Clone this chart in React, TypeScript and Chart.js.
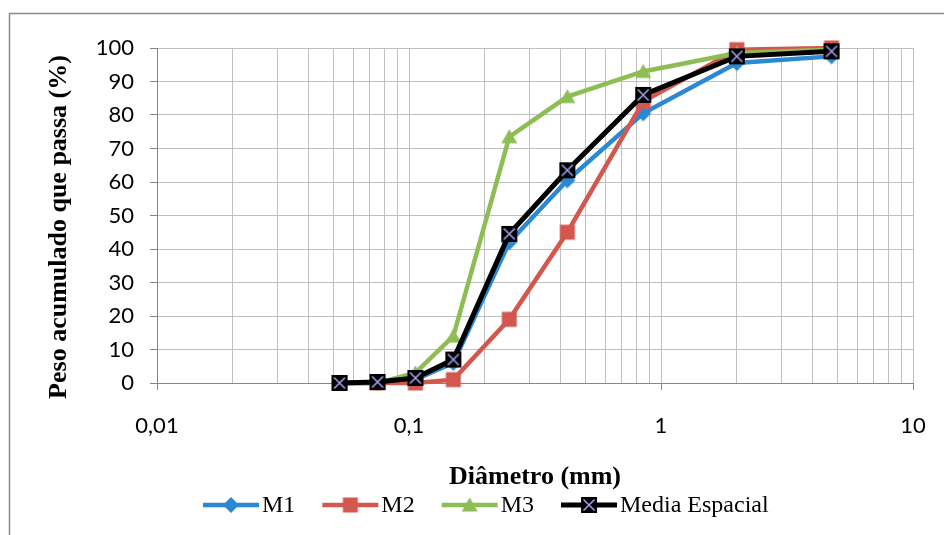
import React, { useEffect, useRef } from 'react';
import { Chart, registerables } from 'chart.js';

Chart.register(...registerables);

// ---- data ----
const diameters = [0.053, 0.075, 0.106, 0.15, 0.25, 0.425, 0.85, 2, 4.75];
const m1Values = [0, 0, 1, 6, 42, 60.5, 80.5, 95.5, 97.5];
const m2Values = [0, 0, 0, 1, 19, 45, 84, 99.5, 100];
const m3Values = [0, 0, 3, 14, 73.5, 85.5, 93, 98.5, 99.5];
const mediaValues = [0, 0.3, 1.5, 7, 44.5, 63.5, 86, 97.5, 99];
const seriesNames = ['M1', 'M2', 'M3', 'Media Espacial'];

const yTickValues = [0, 10, 20, 30, 40, 50, 60, 70, 80, 90, 100];
const xGridValues = [
  0.01, 0.02, 0.03, 0.04, 0.05, 0.06, 0.07, 0.08, 0.09,
  0.1, 0.2, 0.3, 0.4, 0.5, 0.6, 0.7, 0.8, 0.9,
  1, 2, 3, 4, 5, 6, 7, 8, 9,
  10,
];
const xMajorValues = [0.01, 0.1, 1, 10];
const xMajorLabels = ['0,01', '0,1', '1', '10'];
const xTitle = 'Diâmetro (mm)';
const yTitle = 'Peso acumulado que passa (%)';

const COLORS = {
  m1: '#2b89d2',
  m2: '#d4574f',
  m3: '#8ebd54',
  media: '#000000',
  cross: '#a0a0f0',
};

function makeMarker(kind: string, color: string): HTMLCanvasElement {
  const s = 20;
  const c = document.createElement('canvas');
  c.width = s;
  c.height = s;
  const g = c.getContext('2d') as CanvasRenderingContext2D;
  const m = s / 2;
  g.fillStyle = color;
  g.beginPath();
  if (kind === 'diamond') {
    g.moveTo(m, m - 8);
    g.lineTo(m + 8, m);
    g.lineTo(m, m + 8);
    g.lineTo(m - 8, m);
    g.closePath();
    g.fill();
  } else if (kind === 'square') {
    g.rect(m - 7.5, m - 7.5, 15, 15);
    g.fill();
  } else if (kind === 'triangle') {
    g.moveTo(m, m - 7.5);
    g.lineTo(m + 8, m + 6.5);
    g.lineTo(m - 8, m + 6.5);
    g.closePath();
    g.fill();
  } else {
    g.rect(m - 8, m - 8, 16, 16);
    g.fill();
    g.strokeStyle = COLORS.cross;
    g.lineWidth = 1.6;
    g.beginPath();
    g.moveTo(m - 5.5, m - 5.5);
    g.lineTo(m + 5.5, m + 5.5);
    g.moveTo(m + 5.5, m - 5.5);
    g.lineTo(m - 5.5, m + 5.5);
    g.stroke();
  }
  return c;
}

export default function App() {
  const ref = useRef<HTMLCanvasElement | null>(null);

  useEffect(() => {
    const canvas = ref.current;
    if (!canvas) return;

    const markers = [
      makeMarker('diamond', COLORS.m1),
      makeMarker('square', COLORS.m2),
      makeMarker('triangle', COLORS.m3),
      makeMarker('cross', COLORS.media),
    ];

    const mk = (vals: number[]) => diameters.map((d, i) => ({ x: d, y: vals[i] }));

    const datasets = [
      { label: seriesNames[0], data: mk(m1Values), borderColor: COLORS.m1, backgroundColor: COLORS.m1, borderWidth: 4.5, pointStyle: markers[0], order: 3 },
      { label: seriesNames[1], data: mk(m2Values), borderColor: COLORS.m2, backgroundColor: COLORS.m2, borderWidth: 4.5, pointStyle: markers[1], order: 2 },
      { label: seriesNames[2], data: mk(m3Values), borderColor: COLORS.m3, backgroundColor: COLORS.m3, borderWidth: 4.5, pointStyle: markers[2], order: 1 },
      { label: seriesNames[3], data: mk(mediaValues), borderColor: COLORS.media, backgroundColor: COLORS.media, borderWidth: 5, pointStyle: markers[3], order: 0 },
    ].map((d) => ({ ...d, pointRadius: 8, tension: 0, clip: false as any, fill: false }));

    const decor = {
      id: 'decor',
      beforeDraw(chart: any) {
        const ctx = chart.ctx as CanvasRenderingContext2D;
        ctx.save();
        ctx.fillStyle = '#ffffff';
        ctx.fillRect(0, 0, chart.width, chart.height);
        ctx.strokeStyle = '#8a8a8a';
        ctx.lineWidth = 1.5;
        ctx.beginPath();
        ctx.moveTo(9.5, chart.height);
        ctx.lineTo(9.5, 13.5);
        ctx.lineTo(chart.width, 13.5);
        ctx.stroke();
        ctx.restore();
      },
      afterDraw(chart: any) {
        const ctx = chart.ctx as CanvasRenderingContext2D;
        // y axis title
        ctx.save();
        ctx.translate(59, 227);
        ctx.rotate(-Math.PI / 2);
        ctx.font = 'bold 26px "Liberation Serif"';
        ctx.fillStyle = '#000';
        ctx.textAlign = 'center';
        ctx.textBaseline = 'middle';
        ctx.fillText(yTitle, 0, 0);
        ctx.restore();

        // legend
        ctx.save();
        ctx.font = '24px "Liberation Serif"';
        ctx.textBaseline = 'middle';
        ctx.textAlign = 'left';
        let x = 203;
        const y = 505;
        chart.data.datasets
          .slice()
          .sort((a: any, b: any) => seriesNames.indexOf(a.label) - seriesNames.indexOf(b.label))
          .forEach((ds: any) => {
            ctx.strokeStyle = ds.borderColor;
            ctx.lineWidth = ds.borderWidth;
            ctx.beginPath();
            ctx.moveTo(x, y);
            ctx.lineTo(x + 56, y);
            ctx.stroke();
            const img = ds.pointStyle as HTMLCanvasElement;
            ctx.drawImage(img, x + 28 - img.width / 2, y - img.height / 2);
            ctx.fillStyle = '#000';
            ctx.fillText(ds.label, x + 59, y + 1);
            x = x + 59 + ctx.measureText(ds.label).width + 27;
          });
        ctx.restore();
      },
    };

    const chart = new Chart(canvas, {
      type: 'line',
      data: { datasets: datasets as any },
      options: {
        animation: false,
        responsive: false,
        layout: { padding: { left: 0, top: 48, right: 31, bottom: 0 } },
        plugins: { legend: { display: false }, tooltip: { enabled: false } },
        scales: {
          x: {
            type: 'logarithmic',
            min: 0.01,
            max: 10,
            afterBuildTicks: (s: any) => {
              s.ticks = xGridValues.map((v) => ({ value: v, major: xMajorValues.includes(v) }));
            },
            afterFit: (s: any) => {
              s.height = 535 - 383;
              s.paddingLeft = 0;
              s.paddingRight = 0;
            },
            ticks: {
              autoSkip: false,
              maxRotation: 0,
              minRotation: 0,
              padding: 23,
              color: '#000',
              font: { family: 'Lato', size: 22 },
              callback: (v: any) => {
                const i = xMajorValues.indexOf(Number(v));
                return i >= 0 ? xMajorLabels[i] : '';
              },
            },
            grid: {
              color: '#c0c0c0',
              lineWidth: 1,
              tickLength: 7,
              tickColor: (c: any) => (c.tick && xMajorValues.includes(c.tick.value) ? '#868686' : 'rgba(0,0,0,0)'),
            },
            border: { color: '#868686', width: 1 },
            title: {
              display: true,
              text: xTitle,
              color: '#000',
              font: { family: 'Liberation Serif', size: 26, weight: 'bold' },
              padding: { top: 0, bottom: 42 },
            },
          },
          y: {
            type: 'linear',
            min: 0,
            max: 100,
            afterBuildTicks: (s: any) => {
              s.ticks = yTickValues.map((v) => ({ value: v }));
            },
            afterFit: (s: any) => {
              s.width = 157;
              s.paddingTop = 0;
              s.paddingBottom = 0;
            },
            ticks: {
              padding: 16,
              color: '#000',
              font: { family: 'Lato', size: 22 },
            },
            grid: { color: '#c0c0c0', lineWidth: 1, tickLength: 7, tickColor: '#868686' },
            border: { color: '#868686', width: 1 },
          },
        },
      } as any,
      plugins: [decor],
    });

    return () => chart.destroy();
  }, []);

  return (
    <div style={{ position: 'fixed', left: 0, top: 0, width: 944, height: 535, background: '#fff' }}>
      <canvas ref={ref} width={944} height={535} style={{ display: 'block' }} />
    </div>
  );
}
